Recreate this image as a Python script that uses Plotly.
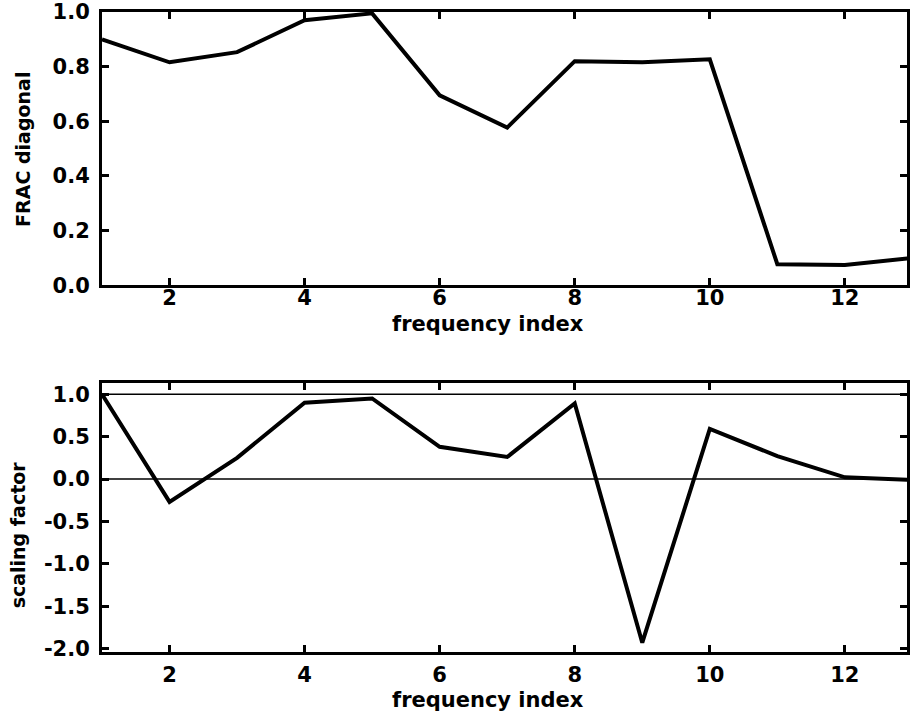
import plotly.graph_objects as go
from plotly.subplots import make_subplots

freq_index = [1, 2, 3, 4, 5, 6, 7, 8, 9, 10, 11, 12, 13]
frac_diagonal = [0.90, 0.816, 0.853, 0.97, 0.995, 0.695, 0.577, 0.82, 0.816, 0.827, 0.077, 0.074, 0.10]
scaling_factor = [1.0, -0.27, 0.25, 0.90, 0.95, 0.38, 0.26, 0.89, -1.93, 0.59, 0.27, 0.02, -0.01]
ref_levels = [0.0, 1.0]

x_ticks = [2, 4, 6, 8, 10, 12]
top_y_ticks = [0.0, 0.2, 0.4, 0.6, 0.8, 1.0]
top_y_labels = ["0.0", "0.2", "0.4", "0.6", "0.8", "1.0"]
bot_y_ticks = [-2.0, -1.5, -1.0, -0.5, 0.0, 0.5, 1.0]
bot_y_labels = ["-2.0", "-1.5", "-1.0", "-0.5", "0.0", "0.5", "1.0"]

x_title = "frequency index"
top_y_title = "FRAC diagonal"
bot_y_title = "scaling factor"

FONT = "DejaVu Sans"
X_RANGE = [1, 12.92]

fig = make_subplots(rows=2, cols=1, vertical_spacing=0.153)

fig.add_trace(go.Scatter(x=freq_index, y=frac_diagonal, mode="lines",
                         line=dict(color="black", width=4), showlegend=False), row=1, col=1)
for lv in ref_levels:
    fig.add_trace(go.Scatter(x=X_RANGE, y=[lv, lv], mode="lines",
                             line=dict(color="black", width=1.5), showlegend=False), row=2, col=1)
fig.add_trace(go.Scatter(x=freq_index, y=scaling_factor, mode="lines",
                         line=dict(color="black", width=4), showlegend=False), row=2, col=1)

axis_common = dict(showline=True, linecolor="black", linewidth=3, mirror="allticks",
                   ticks="inside", ticklen=7, tickwidth=3, tickcolor="black",
                   showgrid=False, zeroline=False,
                   tickfont=dict(family=FONT, size=21, color="black", weight="bold"))

fig.update_xaxes(**axis_common, range=X_RANGE, tickvals=x_ticks)
fig.update_xaxes(ticklabelstandoff=-8, row=1, col=1)
fig.update_xaxes(ticklabelstandoff=2, row=2, col=1)
fig.update_yaxes(**axis_common, ticklabelstandoff=5)
fig.update_yaxes(range=[0, 1.0], tickvals=top_y_ticks, ticktext=top_y_labels, row=1, col=1)
fig.update_yaxes(range=[-2.04, 1.13], tickvals=bot_y_ticks, ticktext=bot_y_labels, row=2, col=1)

title_font = dict(family=FONT, size=21, color="black", weight="bold")
ytitle_font = dict(family=FONT, size=19, color="black", weight="bold")
annos = [
    dict(text=x_title, x=0.48, y=0.512, font=title_font, textangle=0),
    dict(text=x_title, x=0.48, y=-0.075, font=title_font, textangle=0),
    dict(text=top_y_title, x=-0.099, y=0.785, font=ytitle_font, textangle=-90),
    dict(text=bot_y_title, x=-0.105, y=0.183, font=ytitle_font, textangle=-90),
]
for a in annos:
    fig.add_annotation(xref="paper", yref="paper", showarrow=False,
                       xanchor="center", yanchor="middle", **a)

fig.update_layout(width=910, height=713, margin=dict(l=102, r=0, t=12, b=61),
                  plot_bgcolor="white", paper_bgcolor="white")
fig.update_layout(xaxis=dict(domain=[0, 1]), yaxis=dict(domain=[0.573, 1.0]),
                  yaxis2=dict(domain=[0.0, 0.42]))

fig.write_html("out.html")
